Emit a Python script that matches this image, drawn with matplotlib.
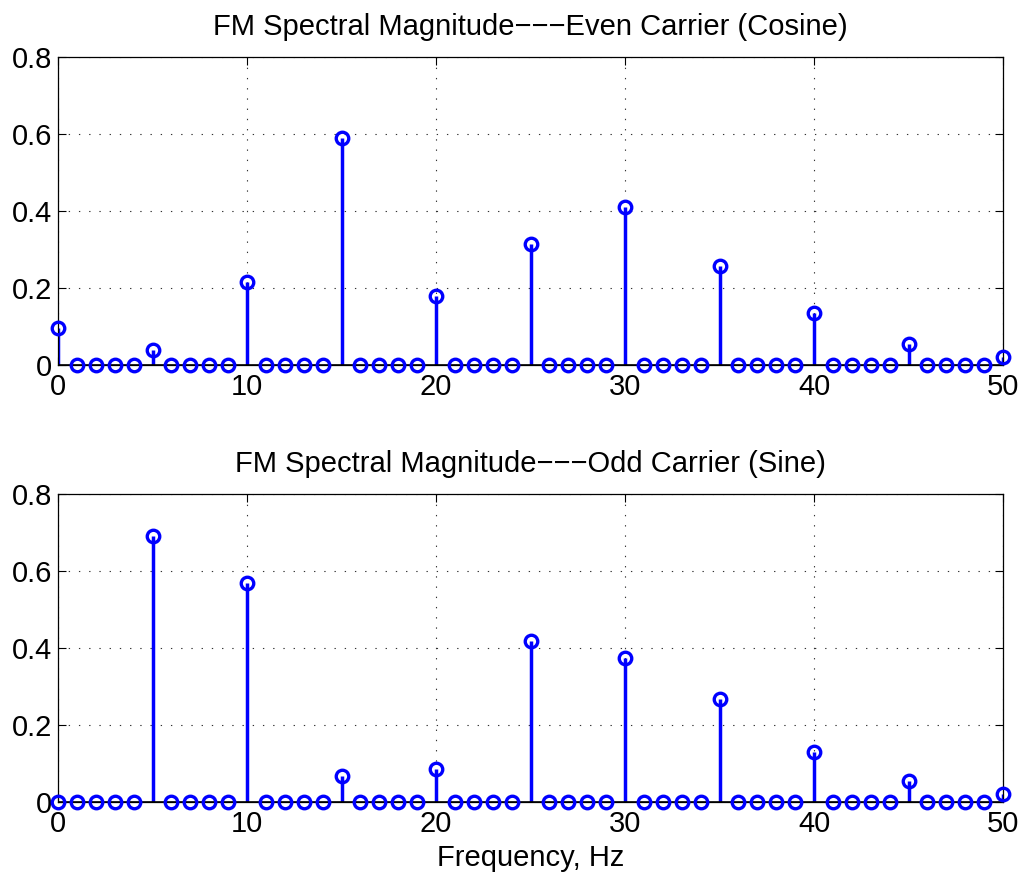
import matplotlib
matplotlib.use("Agg")
import matplotlib.pyplot as plt
import numpy as np

plt.rcParams['font.family'] = ['Liberation Sans', 'DejaVu Sans']

freq = list(range(0, 51))
even_peaks_f = [0, 5, 10, 15, 20, 25, 30, 35, 40, 45, 50]
even_peaks_v = [0.095, 0.039, 0.215, 0.590, 0.178, 0.313, 0.410, 0.257, 0.134, 0.055, 0.020]
odd_peaks_f = [0, 5, 10, 15, 20, 25, 30, 35, 40, 45, 50]
odd_peaks_v = [0.0, 0.691, 0.568, 0.068, 0.085, 0.418, 0.373, 0.267, 0.131, 0.055, 0.021]

even_mag = [0.0] * len(freq)
for f, v in zip(even_peaks_f, even_peaks_v):
    even_mag[f] = v
odd_mag = [0.0] * len(freq)
for f, v in zip(odd_peaks_f, odd_peaks_v):
    odd_mag[f] = v

titles = ["FM Spectral Magnitude\u2212\u2212\u2212Even Carrier (Cosine)",
          "FM Spectral Magnitude\u2212\u2212\u2212Odd Carrier (Sine)"]
xticks = [0, 10, 20, 30, 40, 50]
yticks = [0, 0.2, 0.4, 0.6, 0.8]
ytick_labels = ['0', '0.2', '0.4', '0.6', '0.8']

W, H = 1031, 872
fig = plt.figure(figsize=(W / 100, H / 100), dpi=100)

# axes rectangles in pixels: left, top, right, bottom
rects = [(58, 57, 1003, 365), (58, 494, 1003, 802)]
data = [even_mag, odd_mag]

for i, ((l, t, r, b), mag) in enumerate(zip(rects, data)):
    ax = fig.add_axes([l / W, 1 - b / H, (r - l) / W, (b - t) / H])
    markerline, stemlines, baseline = ax.stem(freq, mag, linefmt='b-', markerfmt='bo', basefmt='k-')
    plt.setp(stemlines, linewidth=2.5, color='#0000ff')
    plt.setp(markerline, markersize=9, markerfacecolor='none', markeredgecolor='#0000ff',
             markeredgewidth=2.4, clip_on=False, zorder=4)
    plt.setp(baseline, linewidth=1.2, color='black', zorder=3)
    ax.set_xlim(0, 50)
    ax.set_ylim(0, 0.8)
    ax.set_xticks(xticks)
    ax.set_yticks(yticks)
    ax.set_yticklabels(ytick_labels)
    ax.tick_params(direction='in', top=True, right=True, length=6, width=0.8,
                   labelsize=21, pad=4)
    ax.tick_params(axis='x', pad=6)
    ax.grid(True, linestyle=(0, (1.2, 8)), color='#333333', linewidth=0.8)
    for s in ax.spines.values():
        s.set_linewidth(0.9)
    ax.set_title(titles[i], fontsize=21, pad=16)
    if i == 1:
        ax.set_xlabel("Frequency, Hz", fontsize=21, labelpad=4)

fig.savefig("out.png", dpi=100)
